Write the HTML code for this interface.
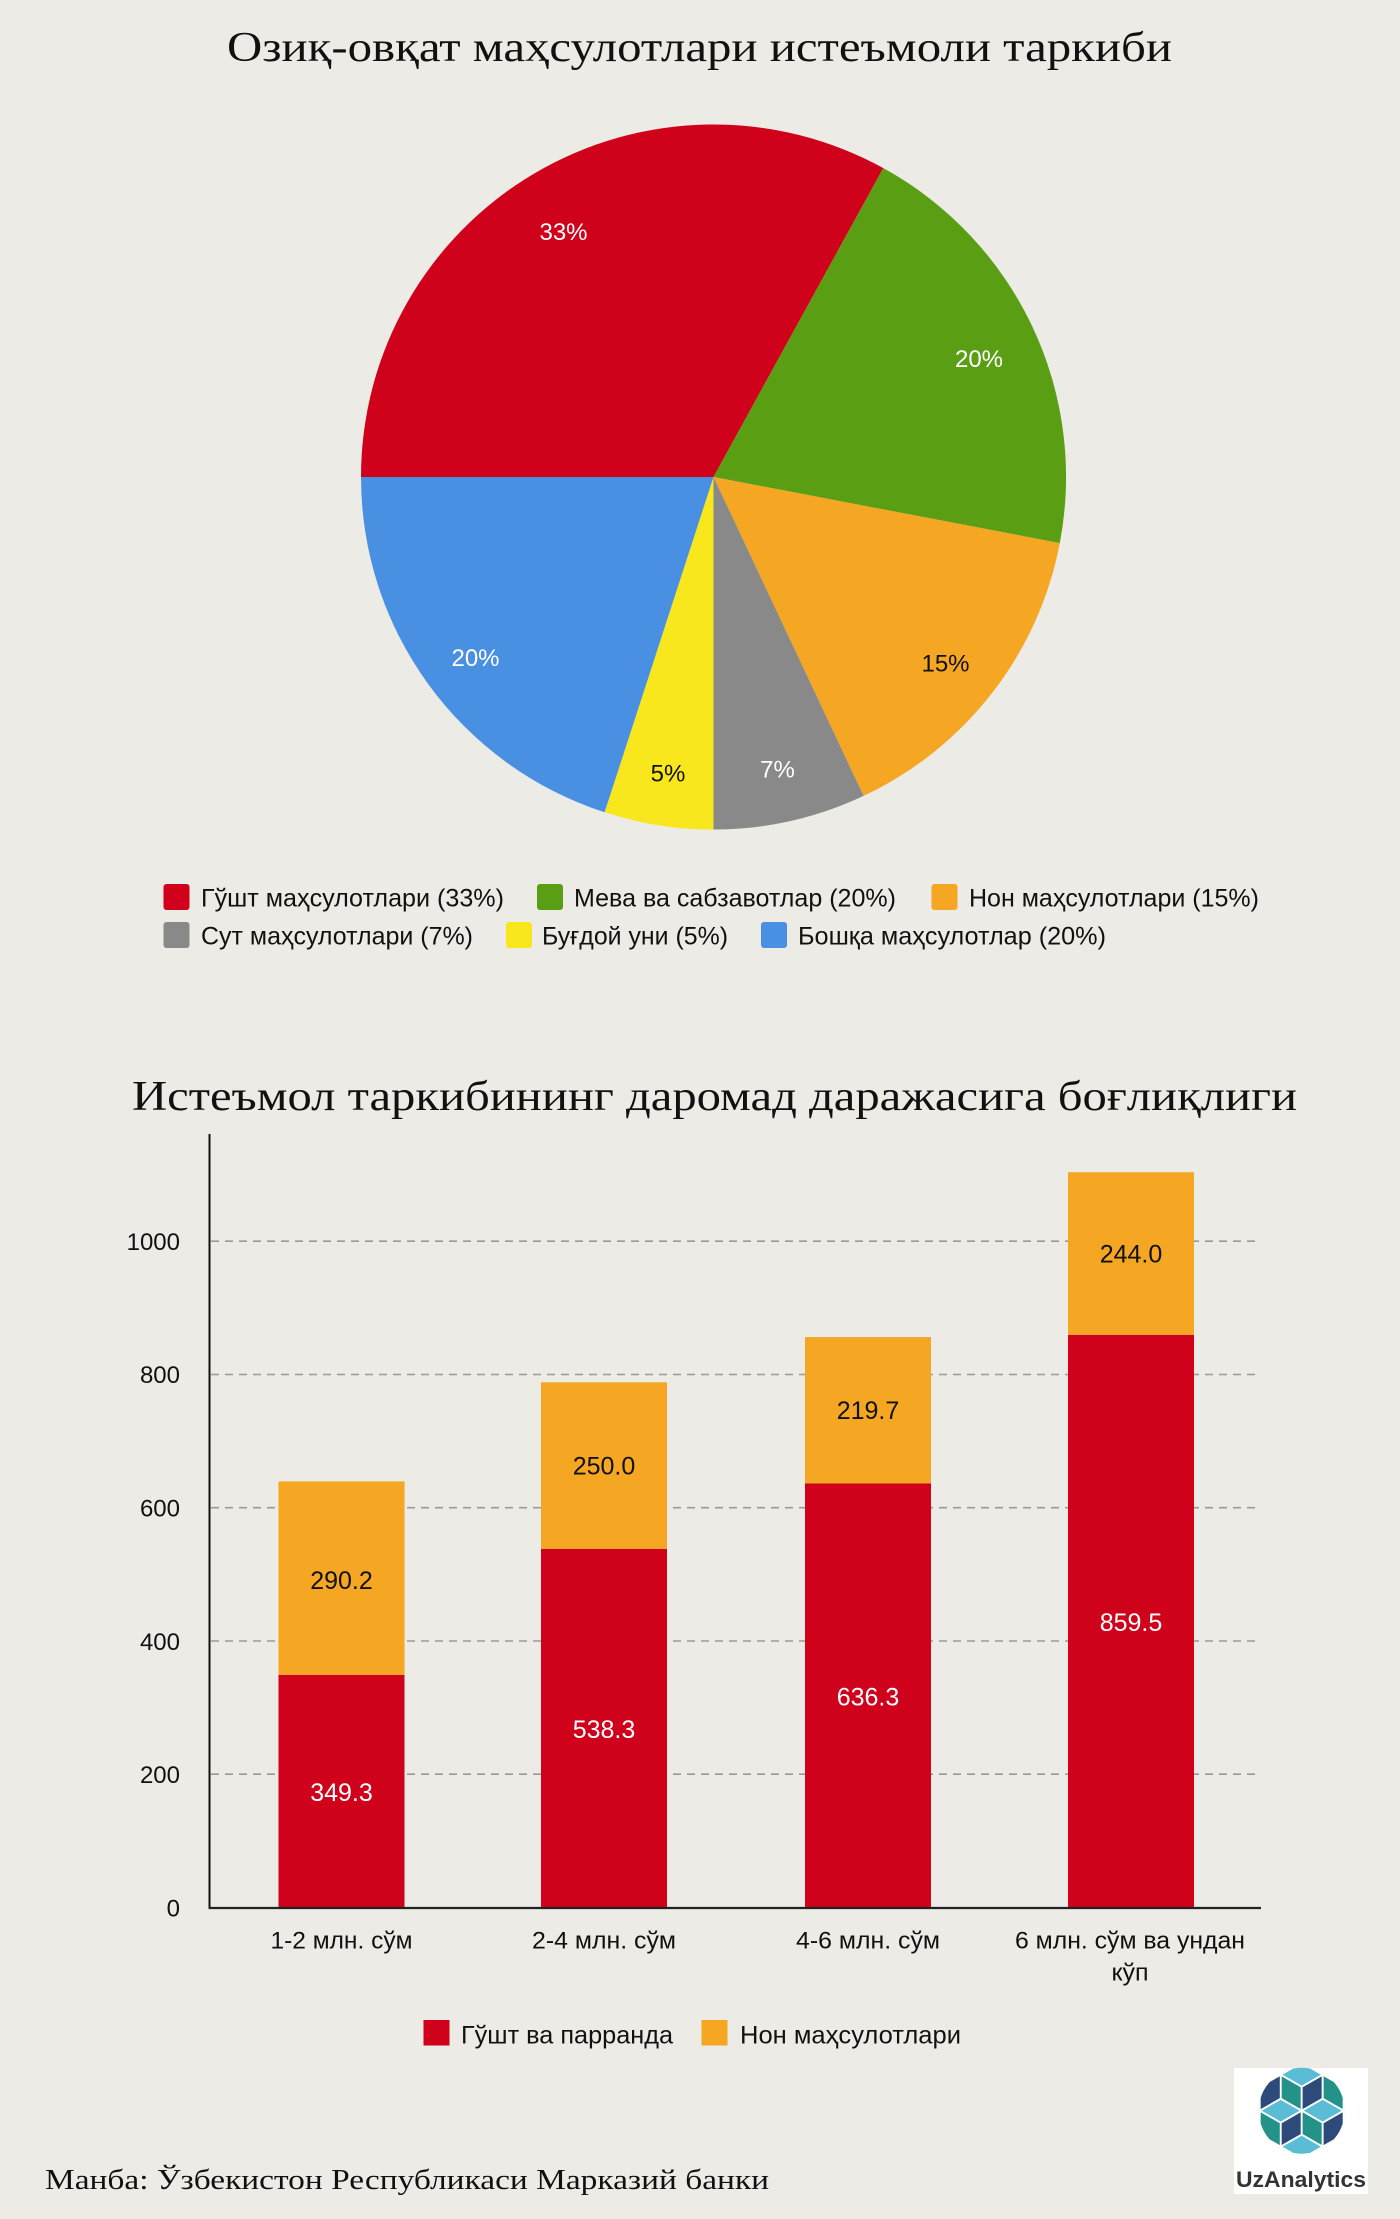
<!DOCTYPE html>
<html>
<head>
<meta charset="utf-8">
<style>
  html, body { margin: 0; padding: 0; }
  body { width: 1400px; height: 2219px; background: #ecebe5; overflow: hidden; }
  svg { display: block; }
  .sans { font-family: "Liberation Sans", "DejaVu Sans", sans-serif; }
  .serif { font-family: "Liberation Serif", "DejaVu Serif", serif; }
</style>
</head>
<body>
<svg width="1400" height="2219" viewBox="0 0 1400 2219" xmlns="http://www.w3.org/2000/svg">
  <rect x="0" y="0" width="1400" height="2219" fill="#ecebe5"/>

  <!-- Title 1 -->
  <text class="serif" x="227" y="61" font-size="42" fill="#111" textLength="945" lengthAdjust="spacingAndGlyphs">Озиқ-овқат маҳсулотлари истеъмоли таркиби</text>

  <!-- Pie -->
  <g>
    <path d="M713.5,477 L361,477 A352.5,352.5 0 0 1 883.3,168.1 Z" fill="#d0021b"/>
    <path d="M713.5,477 L883.3,168.1 A352.5,352.5 0 0 1 1059.8,543.1 Z" fill="#5a9e13"/>
    <path d="M713.5,477 L1059.8,543.1 A352.5,352.5 0 0 1 863.6,795.9 Z" fill="#f5a623"/>
    <path d="M713.5,477 L863.6,795.9 A352.5,352.5 0 0 1 713.5,829.5 Z" fill="#898989"/>
    <path d="M713.5,477 L713.5,829.5 A352.5,352.5 0 0 1 604.6,812.3 Z" fill="#f8e71c"/>
    <path d="M713.5,477 L604.6,812.3 A352.5,352.5 0 0 1 361,477 Z" fill="#4a90e2"/>
  </g>
  <g class="sans" font-size="24" text-anchor="middle">
    <text x="563.5" y="240" fill="#fff">33%</text>
    <text x="979" y="367" fill="#fff">20%</text>
    <text x="945.5" y="671.5" fill="#111">15%</text>
    <text x="777.5" y="777.5" fill="#fff">7%</text>
    <text x="668" y="781.5" fill="#111">5%</text>
    <text x="475.5" y="666" fill="#fff">20%</text>
  </g>

  <!-- Pie legend -->
  <g class="sans" font-size="25" fill="#111">
    <rect x="163.5" y="884" width="26" height="26" rx="3" fill="#d0021b"/>
    <text x="201" y="906.5" textLength="303" lengthAdjust="spacingAndGlyphs">Гўшт маҳсулотлари (33%)</text>
    <rect x="537" y="884" width="26" height="26" rx="3" fill="#5a9e13"/>
    <text x="574" y="906.5" textLength="322" lengthAdjust="spacingAndGlyphs">Мева ва сабзавотлар (20%)</text>
    <rect x="931.5" y="884" width="26" height="26" rx="3" fill="#f5a623"/>
    <text x="969" y="906.5" textLength="290" lengthAdjust="spacingAndGlyphs">Нон маҳсулотлари (15%)</text>

    <rect x="163.5" y="922" width="26" height="26" rx="3" fill="#898989"/>
    <text x="201" y="944.5" textLength="272" lengthAdjust="spacingAndGlyphs">Сут маҳсулотлари (7%)</text>
    <rect x="506" y="922" width="26" height="26" rx="3" fill="#f8e71c"/>
    <text x="542" y="944.5" textLength="186" lengthAdjust="spacingAndGlyphs">Буғдой уни (5%)</text>
    <rect x="761" y="922" width="26" height="26" rx="3" fill="#4a90e2"/>
    <text x="798" y="944.5" textLength="308" lengthAdjust="spacingAndGlyphs">Бошқа маҳсулотлар (20%)</text>
  </g>

  <!-- Title 2 -->
  <text class="serif" x="132" y="1110" font-size="42" fill="#111" textLength="1165" lengthAdjust="spacingAndGlyphs">Истеъмол таркибининг даромад даражасига боғлиқлиги</text>

  <!-- Gridlines -->
  <g stroke="#9a9a9a" stroke-width="1.6" stroke-dasharray="8 6" fill="none">
    <line x1="211" y1="1774.2" x2="1258" y2="1774.2"/>
    <line x1="211" y1="1641.0" x2="1258" y2="1641.0"/>
    <line x1="211" y1="1507.7" x2="1258" y2="1507.7"/>
    <line x1="211" y1="1374.5" x2="1258" y2="1374.5"/>
    <line x1="211" y1="1241.2" x2="1258" y2="1241.2"/>
  </g>

  <!-- Bars -->
  <g>
    <rect x="278.5" y="1674.8" width="126" height="232.7" fill="#d0021b"/>
    <rect x="278.5" y="1481.4" width="126" height="193.4" fill="#f5a623"/>

    <rect x="541" y="1548.8" width="126" height="358.7" fill="#d0021b"/>
    <rect x="541" y="1382.3" width="126" height="166.5" fill="#f5a623"/>

    <rect x="805" y="1483.5" width="126" height="424" fill="#d0021b"/>
    <rect x="805" y="1337.1" width="126" height="146.4" fill="#f5a623"/>

    <rect x="1068" y="1334.8" width="126" height="572.7" fill="#d0021b"/>
    <rect x="1068" y="1172.2" width="126" height="162.6" fill="#f5a623"/>
  </g>

  <!-- Bar value labels -->
  <g class="sans" font-size="25" text-anchor="middle">
    <text x="341.5" y="1801" fill="#fff">349.3</text>
    <text x="341.5" y="1589" fill="#111">290.2</text>
    <text x="604" y="1738" fill="#fff">538.3</text>
    <text x="604" y="1474.5" fill="#111">250.0</text>
    <text x="868" y="1705.5" fill="#fff">636.3</text>
    <text x="868" y="1419" fill="#111">219.7</text>
    <text x="1131" y="1631" fill="#fff">859.5</text>
    <text x="1131" y="1262.5" fill="#111">244.0</text>
  </g>

  <!-- Axes -->
  <line x1="209.5" y1="1134" x2="209.5" y2="1909" stroke="#111" stroke-width="2"/>
  <line x1="208.5" y1="1908" x2="1261" y2="1908" stroke="#222" stroke-width="2.2"/>

  <!-- Y tick labels -->
  <g class="sans" font-size="24" fill="#111" text-anchor="end">
    <text x="180" y="1916.5">0</text>
    <text x="180" y="1783">200</text>
    <text x="180" y="1650">400</text>
    <text x="180" y="1516.5">600</text>
    <text x="180" y="1383">800</text>
    <text x="180" y="1250">1000</text>
  </g>

  <!-- X labels -->
  <g class="sans" font-size="24" fill="#111">
    <text x="270.5" y="1948.5" textLength="142" lengthAdjust="spacingAndGlyphs">1-2 млн. сўм</text>
    <text x="532" y="1948.5" textLength="144" lengthAdjust="spacingAndGlyphs">2-4 млн. сўм</text>
    <text x="796" y="1948.5" textLength="144" lengthAdjust="spacingAndGlyphs">4-6 млн. сўм</text>
    <text x="1015" y="1948.5" textLength="230" lengthAdjust="spacingAndGlyphs">6 млн. сўм ва ундан</text>
    <text x="1111.5" y="1980.5" textLength="37" lengthAdjust="spacingAndGlyphs">кўп</text>
  </g>

  <!-- Bar legend -->
  <g class="sans" font-size="25" fill="#111">
    <rect x="423.5" y="2020" width="26" height="25.5" fill="#d0021b"/>
    <text x="461" y="2043.5" textLength="212" lengthAdjust="spacingAndGlyphs">Гўшт ва парранда</text>
    <rect x="701.5" y="2020" width="26" height="25.5" fill="#f5a623"/>
    <text x="740" y="2043.5" textLength="221" lengthAdjust="spacingAndGlyphs">Нон маҳсулотлари</text>
  </g>

  <!-- Footer -->
  <text class="serif" x="45" y="2189" font-size="28" fill="#111" textLength="724" lengthAdjust="spacingAndGlyphs">Манба: Ўзбекистон Республикаси Марказий банки</text>

  <!-- Logo -->
  <rect x="1234" y="2068" width="134" height="126" fill="#ffffff"/>
  <defs>
    <clipPath id="logoclip">
      <circle cx="0" cy="0" r="43"/>
    </clipPath>
  </defs>
  <g transform="translate(1301.7,2110.7)">
    <g clip-path="url(#logoclip)" stroke="#ffffff" stroke-width="1.8" stroke-linejoin="round">
      <!-- center horizontals -->
      <polygon points="0,0 -21,-12 -42,0 -21,12" fill="#5bbcd6"/>
      <polygon points="0,0 21,-12 42,0 21,12" fill="#5bbcd6"/>
      <!-- upper middles -->
      <polygon points="0,0 -21,-12 -21,-36 0,-24" fill="#23938a"/>
      <polygon points="0,0 0,-24 21,-36 21,-12" fill="#2d4a7a"/>
      <!-- lower middles -->
      <polygon points="0,0 -21,12 -21,36 0,24" fill="#2d4a7a"/>
      <polygon points="0,0 0,24 21,36 21,12" fill="#23938a"/>
      <!-- top / bottom -->
      <polygon points="0,-24 -21,-36 0,-48 21,-36" fill="#5bbcd6"/>
      <polygon points="0,24 -21,36 0,48 21,36" fill="#5bbcd6"/>
      <!-- outer -->
      <polygon points="-21,-12 -42,0 -42,-24 -21,-36" fill="#2d4a7a"/>
      <polygon points="21,-12 21,-36 42,-24 42,0" fill="#23938a"/>
      <polygon points="-21,12 -42,0 -42,24 -21,36" fill="#23938a"/>
      <polygon points="21,12 42,0 42,24 21,36" fill="#2d4a7a"/>
      <!-- far outer fill -->
      <polygon points="-42,-24 -42,0 -60,-10 -60,-34" fill="#5bbcd6"/>
      <polygon points="42,-24 42,0 60,-10 60,-34" fill="#5bbcd6"/>
      <polygon points="-42,24 -42,0 -60,10 -60,34" fill="#5bbcd6"/>
      <polygon points="42,24 42,0 60,10 60,34" fill="#5bbcd6"/>
    </g>
  </g>
  <text class="sans" x="1236" y="2187" font-size="22" font-weight="bold" fill="#333" textLength="130" lengthAdjust="spacingAndGlyphs">UzAnalytics</text>
</svg>
</body>
</html>
